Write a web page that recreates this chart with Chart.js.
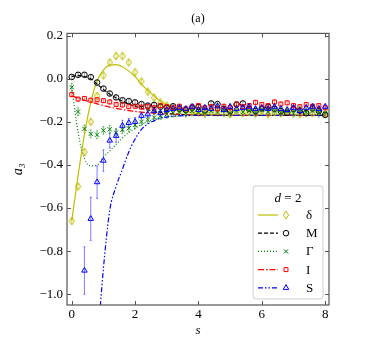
<!DOCTYPE html>
<html>
<head>
<meta charset="utf-8">
<script src="https://cdn.jsdelivr.net/npm/chart.js@4.4.1/dist/chart.umd.min.js"></script>
<style>
  html, body { margin: 0; padding: 0; background: #fff; }
  #wrap { width: 374px; height: 340px; }
</style>
</head>
<body>
<div id="wrap"><canvas id="chart" width="374" height="340"></canvas></div>
<script>
// grille en s (points tous les 0.2)
const sGrid = [0, 0.2, 0.4, 0.6, 0.8, 1.0, 1.2, 1.4, 1.6, 1.8, 2.0, 2.2, 2.4, 2.6, 2.8, 3.0, 3.2, 3.4, 3.6, 3.8,
  4.0, 4.2, 4.4, 4.6, 4.8, 5.0, 5.2, 5.4, 5.6, 5.8, 6.0, 6.2, 6.4, 6.6, 6.8, 7.0, 7.2, 7.4, 7.6, 7.8, 8.0];

// points mesurés
const deltaPts = [-0.66, -0.50, -0.34, -0.20, -0.08, 0.015, 0.075, 0.105, 0.105, 0.075, 0.03, -0.013, -0.06, -0.088, -0.11, -0.125, -0.14, -0.145, -0.15, -0.155,
  -0.15, -0.16, -0.155, -0.15, -0.16, -0.165, -0.15, -0.16, -0.155, -0.16, -0.15, -0.165, -0.155, -0.16, -0.15, -0.16, -0.165, -0.155, -0.16, -0.15, -0.165];
const mPts = [0.008, 0.018, 0.018, 0.007, -0.018, -0.046, -0.069, -0.087, -0.10, -0.104, -0.11, -0.118, -0.125, -0.122, -0.13, -0.135, -0.128, -0.14, -0.145, -0.135,
  -0.132, -0.148, -0.115, -0.118, -0.14, -0.15, -0.12, -0.115, -0.14, -0.15, -0.138, -0.13, -0.14, -0.15, -0.158, -0.14, -0.148, -0.16, -0.138, -0.15, -0.168];
const gammaPts = [-0.04, -0.153, -0.233, -0.256, -0.26, -0.24, -0.235, -0.25, -0.237, -0.23, -0.215, -0.20, -0.19, -0.18, -0.172, -0.165, -0.16, -0.155, -0.16, -0.15,
  -0.155, -0.16, -0.15, -0.155, -0.145, -0.16, -0.15, -0.155, -0.15, -0.16, -0.145, -0.155, -0.15, -0.158, -0.15, -0.16, -0.148, -0.155, -0.15, -0.16, -0.158];
const iPts = [-0.074, -0.095, -0.092, -0.10, -0.098, -0.102, -0.108, -0.12, -0.122, -0.13, -0.128, -0.132, -0.13, -0.135, -0.125, -0.13, -0.135, -0.128, -0.14, -0.13,
  -0.125, -0.135, -0.13, -0.14, -0.128, -0.135, -0.118, -0.13, -0.125, -0.11, -0.12, -0.125, -0.108, -0.118, -0.112, -0.125, -0.13, -0.12, -0.128, -0.125, -0.135];
const sPts = [null, null, -0.89, -0.65, -0.48, -0.38, -0.287, -0.265, -0.218, -0.205, -0.20, -0.172, -0.165, -0.15, -0.16, -0.145, -0.14, -0.135, -0.14, -0.13,
  -0.145, -0.135, -0.14, -0.128, -0.145, -0.13, -0.14, -0.135, -0.13, -0.14, -0.135, -0.14, -0.13, -0.14, -0.145, -0.135, -0.15, -0.135, -0.13, -0.14, -0.13];

// barres d'erreur
const sErr = [0, 0, 0.11, 0.10, 0.075, 0.05, 0.035, 0.03, 0.025, 0.02, 0.02, 0.015, 0.015, 0.015, 0.015, 0.012, 0.012, 0.012, 0.012, 0.012,
  0.012, 0.012, 0.012, 0.012, 0.012, 0.012, 0.012, 0.012, 0.012, 0.012, 0.012, 0.012, 0.012, 0.012, 0.012, 0.012, 0.012, 0.012, 0.012, 0.012, 0.012];
const deltaErr = 0.01;
const mErr = 0.01;
const gammaErr = 0.018;
const iErr = 0.01;

// courbes théoriques
const deltaLine = [-0.66, -0.45, -0.26, -0.11, -0.01, 0.04, 0.063, 0.065, 0.055, 0.035, 0.01, -0.025, -0.055, -0.08, -0.105, -0.12, -0.135, -0.145, -0.152, -0.158,
  -0.162, -0.165, -0.167, -0.168, -0.169, -0.17, -0.17, -0.17, -0.17, -0.17, -0.17, -0.17, -0.17, -0.17, -0.17, -0.17, -0.17, -0.17, -0.17, -0.17, -0.17];
const mLine = [0.01, 0.015, 0.01, 0.0, -0.025, -0.05, -0.072, -0.09, -0.105, -0.118, -0.128, -0.137, -0.145, -0.15, -0.155, -0.16, -0.163, -0.165, -0.167, -0.168,
  -0.169, -0.17, -0.17, -0.17, -0.17, -0.17, -0.17, -0.17, -0.17, -0.17, -0.17, -0.17, -0.17, -0.17, -0.17, -0.17, -0.17, -0.17, -0.17, -0.17, -0.17];
const gammaLine = [-0.04, -0.25, -0.37, -0.405, -0.40, -0.365, -0.335, -0.305, -0.275, -0.25, -0.23, -0.213, -0.20, -0.19, -0.183, -0.178, -0.175, -0.173, -0.172, -0.171,
  -0.17, -0.17, -0.17, -0.17, -0.17, -0.17, -0.17, -0.17, -0.17, -0.17, -0.17, -0.17, -0.17, -0.17, -0.17, -0.17, -0.17, -0.17, -0.17, -0.17, -0.17];
const iLine = [-0.08, -0.09, -0.10, -0.108, -0.117, -0.125, -0.132, -0.138, -0.143, -0.148, -0.152, -0.155, -0.158, -0.16, -0.162, -0.164, -0.165, -0.166, -0.167, -0.168,
  -0.169, -0.17, -0.17, -0.17, -0.17, -0.17, -0.17, -0.17, -0.17, -0.17, -0.17, -0.17, -0.17, -0.17, -0.17, -0.17, -0.17, -0.17, -0.17, -0.17, -0.17];
const sLine = [null, null, null, null, -1.25, -0.88, -0.61, -0.50, -0.42, -0.34, -0.28, -0.235, -0.21, -0.195, -0.183, -0.178, -0.174, -0.172, -0.171, -0.17,
  -0.17, -0.17, -0.17, -0.17, -0.17, -0.17, -0.17, -0.17, -0.17, -0.17, -0.17, -0.17, -0.17, -0.17, -0.17, -0.17, -0.17, -0.17, -0.17, -0.17, -0.17];

const labels = ["δ", "M", "Γ", "I", "S"];
const colors = ["#bfbf00", "#000000", "#008000", "#ff0000", "#0000ff"];
const errColors = ["rgba(191,191,0,0.5)", "rgba(0,0,0,0.35)", "rgba(0,128,0,0.5)", "rgba(255,0,0,0.45)", "rgba(0,0,255,0.5)"];
const dashes = [[], [4, 2], [1, 2], [6, 2, 1.5, 2], [5, 2, 1.5, 2, 1.5, 2]];

const serif = "'Liberation Serif', 'DejaVu Serif', serif";

function thinDiamond(color) {
  const c = document.createElement("canvas");
  c.width = 8;
  c.height = 10;
  const g = c.getContext("2d");
  g.strokeStyle = color;
  g.lineWidth = 1;
  g.beginPath();
  g.moveTo(4, 1);
  g.lineTo(6.6, 5);
  g.lineTo(4, 9);
  g.lineTo(1.4, 5);
  g.closePath();
  g.stroke();
  return c;
}
const markers = [thinDiamond(colors[0]), "circle", "crossRot", "rect", "triangle"];
const radii = [4, 2.8, 3, 2.8, 3.2];

const markerVals = [deltaPts, mPts, gammaPts, iPts, sPts];
const lineVals = [deltaLine, mLine, gammaLine, iLine, sLine];
const errVals = [deltaErr, mErr, gammaErr, iErr, sErr];

const toPts = (vals) => vals.map((v, i) => ({ x: sGrid[i], y: v }));

// jeux de points (dessinés au-dessus) puis courbes
const datasets = [];
[4, 3, 2, 1, 0].forEach((k) => {
  datasets.push({
    label: labels[k],
    data: toPts(markerVals[k]),
    showLine: false,
    pointStyle: markers[k],
    pointRadius: radii[k],
    pointBorderWidth: 1,
    pointBorderColor: colors[k],
    pointBackgroundColor: "rgba(0,0,0,0)",
    errors: errVals[k],
    errColor: errColors[k],
  });
});
[4, 3, 2, 1, 0].forEach((k) => {
  datasets.push({
    label: labels[k] + " (théorie)",
    data: toPts(lineVals[k]),
    showLine: true,
    borderColor: colors[k],
    borderWidth: 1.2,
    borderDash: dashes[k],
    pointRadius: 0,
    cubicInterpolationMode: "monotone",
    spanGaps: false,
  });
});

// barres d'erreur
const errorBars = {
  id: "errorBars",
  beforeDatasetsDraw(chart) {
    const { ctx, chartArea, scales } = chart;
    ctx.save();
    ctx.beginPath();
    ctx.rect(chartArea.left, chartArea.top, chartArea.right - chartArea.left, chartArea.bottom - chartArea.top);
    ctx.clip();
    chart.data.datasets.forEach((ds) => {
      if (ds.errors === undefined) return;
      ctx.strokeStyle = ds.errColor;
      ctx.lineWidth = 1;
      ds.data.forEach((p, i) => {
        if (p.y === null) return;
        const e = Array.isArray(ds.errors) ? ds.errors[i] : ds.errors;
        if (!e) return;
        const px = scales.x.getPixelForValue(p.x);
        const y1 = scales.y.getPixelForValue(p.y - e);
        const y2 = scales.y.getPixelForValue(p.y + e);
        ctx.beginPath();
        ctx.moveTo(px, y1);
        ctx.lineTo(px, y2);
        ctx.moveTo(px - 1, y1);
        ctx.lineTo(px + 1, y1);
        ctx.moveTo(px - 1, y2);
        ctx.lineTo(px + 1, y2);
        ctx.stroke();
      });
    });
    ctx.restore();
  },
};

// cadre, graduations intérieures et légende
const frame = {
  id: "frame",
  afterDraw(chart) {
    const { ctx, chartArea: a, scales } = chart;
    ctx.save();
    ctx.strokeStyle = "#555";
    ctx.lineWidth = 1.2;
    ctx.strokeRect(a.left, a.top, a.right - a.left, a.bottom - a.top);
    ctx.lineWidth = 1;
    ctx.beginPath();
    scales.x.ticks.forEach((t) => {
      const px = Math.round(scales.x.getPixelForValue(t.value)) + 0.5;
      ctx.moveTo(px, a.bottom);
      ctx.lineTo(px, a.bottom - 4);
      ctx.moveTo(px, a.top);
      ctx.lineTo(px, a.top + 4);
    });
    scales.y.ticks.forEach((t) => {
      const py = Math.round(scales.y.getPixelForValue(t.value)) + 0.5;
      ctx.moveTo(a.left, py);
      ctx.lineTo(a.left + 4, py);
      ctx.moveTo(a.right, py);
      ctx.lineTo(a.right - 4, py);
    });
    ctx.stroke();

    // légende
    const bx = 253, by = 186, bw = 70, bh = 113;
    ctx.fillStyle = "rgba(255,255,255,0.85)";
    ctx.strokeStyle = "#d0d0d0";
    ctx.beginPath();
    ctx.roundRect(bx, by, bw, bh, 3);
    ctx.fill();
    ctx.stroke();

    ctx.fillStyle = "#000";
    ctx.textBaseline = "middle";
    ctx.font = "italic 13px " + serif;
    const wD = ctx.measureText("d").width;
    ctx.font = "13px " + serif;
    const rest = " = 2";
    const wR = ctx.measureText(rest).width;
    const tx = bx + bw / 2 - (wD + wR) / 2;
    ctx.font = "italic 13px " + serif;
    ctx.textAlign = "left";
    ctx.fillText("d", tx, 199);
    ctx.font = "13px " + serif;
    ctx.fillText(rest, tx + wD, 199);

    for (let k = 0; k < 5; k++) {
      const ry = 215 + k * 18.2;
      ctx.strokeStyle = colors[k];
      ctx.lineWidth = 1.2;
      ctx.setLineDash(dashes[k]);
      ctx.beginPath();
      ctx.moveTo(258, ry);
      ctx.lineTo(278, ry);
      ctx.stroke();
      ctx.setLineDash([]);
      ctx.lineWidth = 1;
      ctx.fillStyle = "rgba(0,0,0,0)";
      Chart.helpers.drawPoint(ctx, { pointStyle: markers[k], radius: radii[k], rotation: 0, borderWidth: 1 }, 286, ry);
      ctx.fillStyle = "#000";
      ctx.font = "13px " + serif;
      ctx.fillText(labels[k], 306, ry + 0.5);
    }
    ctx.restore();
  },
};

new Chart(document.getElementById("chart"), {
  type: "scatter",
  data: { datasets: datasets },
  options: {
    responsive: false,
    animation: false,
    events: [],
    layout: { padding: { left: 0, right: 45, top: 0, bottom: 0 } },
    plugins: {
      legend: { display: false },
      tooltip: { enabled: false },
      title: {
        display: true,
        text: "(a)",
        fullSize: false,
        color: "#000",
        font: { family: serif, size: 12, weight: "normal" },
        padding: { top: 12, bottom: 7 },
      },
    },
    scales: {
      x: {
        type: "linear",
        min: -0.15,
        max: 8.12,
        grid: { display: false, drawTicks: false },
        border: { display: false },
        ticks: { stepSize: 2, includeBounds: false, padding: 2, color: "#000", font: { family: serif, size: 13 } },
        title: { display: true, text: "s", color: "#000", font: { family: serif, size: 13, style: "italic" }, padding: { top: 0, bottom: 2 } },
        afterFit: (scale) => { scale.height = 35; },
      },
      y: {
        type: "linear",
        min: -1.05,
        max: 0.21,
        grid: { display: false, drawTicks: false },
        border: { display: false },
        ticks: {
          stepSize: 0.2,
          includeBounds: false,
          padding: 4,
          color: "#000",
          font: { family: serif, size: 13 },
          callback: (v) => (Math.abs(v) < 1e-9 ? "0.0" : v.toFixed(1).replace("-", "−")),
        },
        title: { display: true, text: "a₃", color: "#000", font: { family: serif, size: 14, style: "italic" }, padding: { top: 10, bottom: 0 } },
        afterFit: (scale) => { scale.width = 67; },
      },
    },
  },
  plugins: [errorBars, frame],
});
</script>
</body>
</html>
